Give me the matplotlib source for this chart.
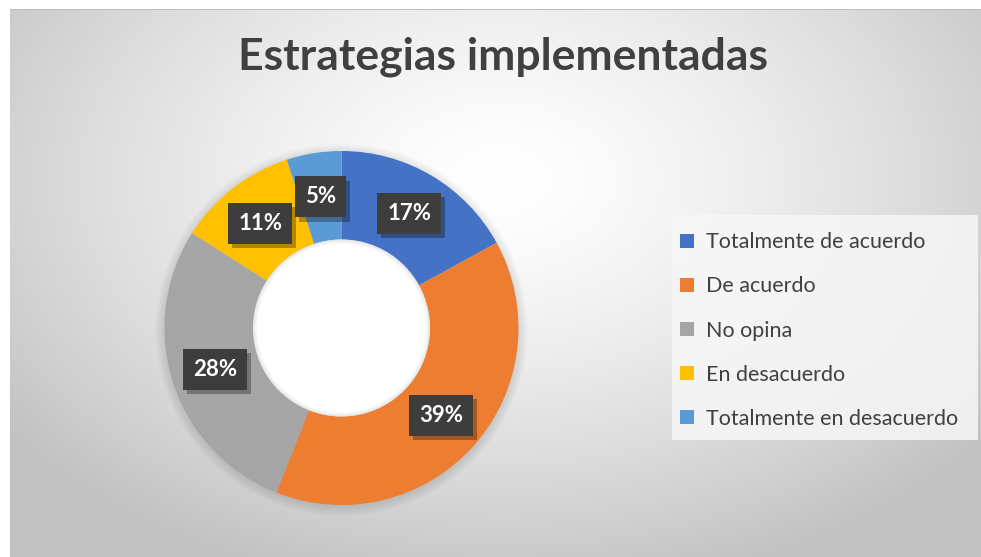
import numpy as np
import matplotlib.pyplot as plt
from matplotlib.patches import Rectangle, Circle
import matplotlib.patheffects as pe

# datos
categorias = ['Totalmente de acuerdo', 'De acuerdo', 'No opina',
              'En desacuerdo', 'Totalmente en desacuerdo']
valores = [17, 39, 28, 11, 5]
colores = ['#4472C4', '#ED7D31', '#A5A5A5', '#FFC000', '#5B9BD5']
titulo = 'Estrategias implementadas'

plt.rcParams['font.family'] = ['Lato', 'DejaVu Sans']

W, H = 981, 557
fig = plt.figure(figsize=(W / 100, H / 100), dpi=100)
fig.patch.set_facecolor('white')

# fondo con degradado radial
bg = fig.add_axes([10 / W, 0, 1 - 10 / W, (H - 9) / H])
yy, xx = np.mgrid[0:548, 0:971]
r = np.sqrt(((xx - 490) / 620.0) ** 2 + ((yy - 170) / 420.0) ** 2)
g = 1.0 - 0.24 * np.clip(r, 0, 1) ** 1.4
bg.imshow(np.dstack([g, g, g]), aspect='auto', extent=[0, 1, 0, 1], origin='upper')
bg.plot([0, 1], [1, 1], color='#b8b8b8', lw=1.2, transform=bg.transAxes)
bg.set_axis_off()

# dona
cx, cy, R = 341.5, 328, 177
half = 200
ax = fig.add_axes([(cx - half) / W, (H - cy - half) / H, 2 * half / W, 2 * half / H])
# sombra suave exterior
for k in range(6):
    ax.add_patch(Circle((0.0, -0.01), 1.0 + 0.01 * k, facecolor='black',
                        edgecolor='none', alpha=0.018, zorder=0))
wedges, _ = ax.pie(valores, colors=colores, startangle=90, counterclock=False,
                   radius=1.0, wedgeprops=dict(width=0.5, edgecolor='none'))
# hueco blanco con leve sombra interior
for rr, c in [(0.5, '#e6e6e6'), (0.494, '#eeeeee'), (0.488, '#f5f5f5'),
              (0.482, '#fafafa'), (0.476, '#ffffff')]:
    ax.add_patch(Circle((0, 0), rr, facecolor=c, edgecolor='none', zorder=3))
ax.set_xlim(-half / R, half / R)
ax.set_ylim(-half / R, half / R)
ax.set_axis_off()

# etiquetas de porcentaje
total = sum(valores)
acum = 0
for v in valores:
    ang = np.deg2rad(90 - (acum + v / 2) / total * 360)
    acum += v
    t = ax.text(0.75 * np.cos(ang), 0.75 * np.sin(ang), f'{v}%',
                ha='center', va='center', fontsize=16, fontweight='bold',
                color='white', zorder=5,
                bbox=dict(boxstyle='square,pad=0.45', facecolor='#3d3d3d',
                          edgecolor='none'))
    t.get_bbox_patch().set_path_effects([
        pe.SimplePatchShadow(offset=(3, -3), shadow_rgbFace='black', alpha=0.3),
        pe.Normal()])

# titulo
fig.text(503 / W, 1 - 57 / H, titulo, ha='center', va='center',
         fontsize=32, fontweight='bold', color='#404040')

# leyenda
fig.patches.append(Rectangle((672 / W, 1 - 440 / H), (978 - 672) / W, 225 / H,
                             transform=fig.transFigure, facecolor='#f7f7f7',
                             edgecolor='none', alpha=0.85, zorder=1))
leg = fig.legend(wedges, categorias, loc='upper left',
                 bbox_to_anchor=(661 / W, 1 - 213 / H), frameon=False,
                 fontsize=15.5, labelcolor='#404040', handlelength=0.62,
                 handleheight=0.62, handletextpad=0.55, labelspacing=1.12)

fig.savefig('out.png', dpi=100)
